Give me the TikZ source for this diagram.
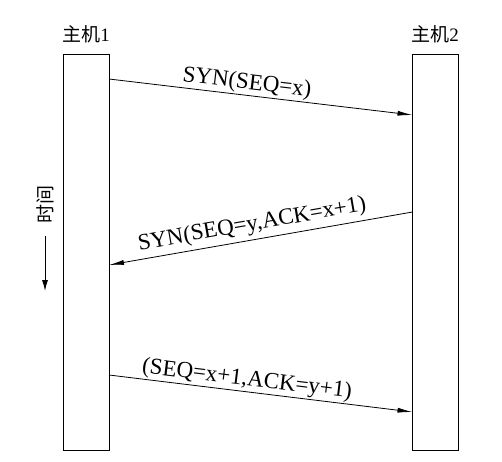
\documentclass[tikz,border=0pt]{standalone}
\usepackage{fontspec}
\setmainfont{Liberation Serif}
\newfontfamily\cjk{Noto Sans CJK SC}
\usetikzlibrary{arrows.meta}
\begin{document}
\begin{tikzpicture}[x=1pt,y=-1pt,
  hostbox/.style={draw, line width=0.9pt, minimum width=46pt, minimum height=396pt, inner sep=0pt},
  msg/.style={line width=0.8pt, -{Latex[length=15pt,width=5pt]}},
  lbl/.style={font=\fontsize{23}{24}\selectfont, sloped, above, inner sep=1pt},
  hdr/.style={font=\fontsize{19}{20}\selectfont, inner sep=0pt}]
\useasboundingbox (0,0) rectangle (502,461);
\node[hostbox] (h1) at (86,252) {};
\node[hostbox] (h2) at (435.5,252) {};
\node[hdr] (t1) at (86,34) {{\cjk 主机}1};
\node[hdr] (t2) at (435,34) {{\cjk 主机}2};
\coordinate (a1s) at (109,79);
\coordinate (a1e) at (412.5,115);
\coordinate (a2s) at (412.5,212);
\coordinate (a2e) at (109,265);
\coordinate (a3s) at (109,375);
\coordinate (a3e) at (412.5,412);
\draw[msg] (a1s) -- node[lbl, pos=0.45] {SYN(SEQ=x)} (a1e);
\draw[msg] (a2s) -- node[lbl, pos=0.52, yshift=3pt] {SYN(SEQ=y,ACK=x+1)} (a2e);
\draw[msg] (a3s) -- node[lbl, pos=0.45] {(SEQ=x+1,ACK=y+1)} (a3e);
\node[font=\fontsize{19}{20}\selectfont\cjk, rotate=90, inner sep=0pt] (tm) at (45,204) {时间};
\coordinate (ts) at (45,236);
\coordinate (te) at (45,291);
\draw[line width=0.9pt, -{Latex[length=11pt,width=6pt]}] (ts) -- (te);
\end{tikzpicture}
\end{document}
